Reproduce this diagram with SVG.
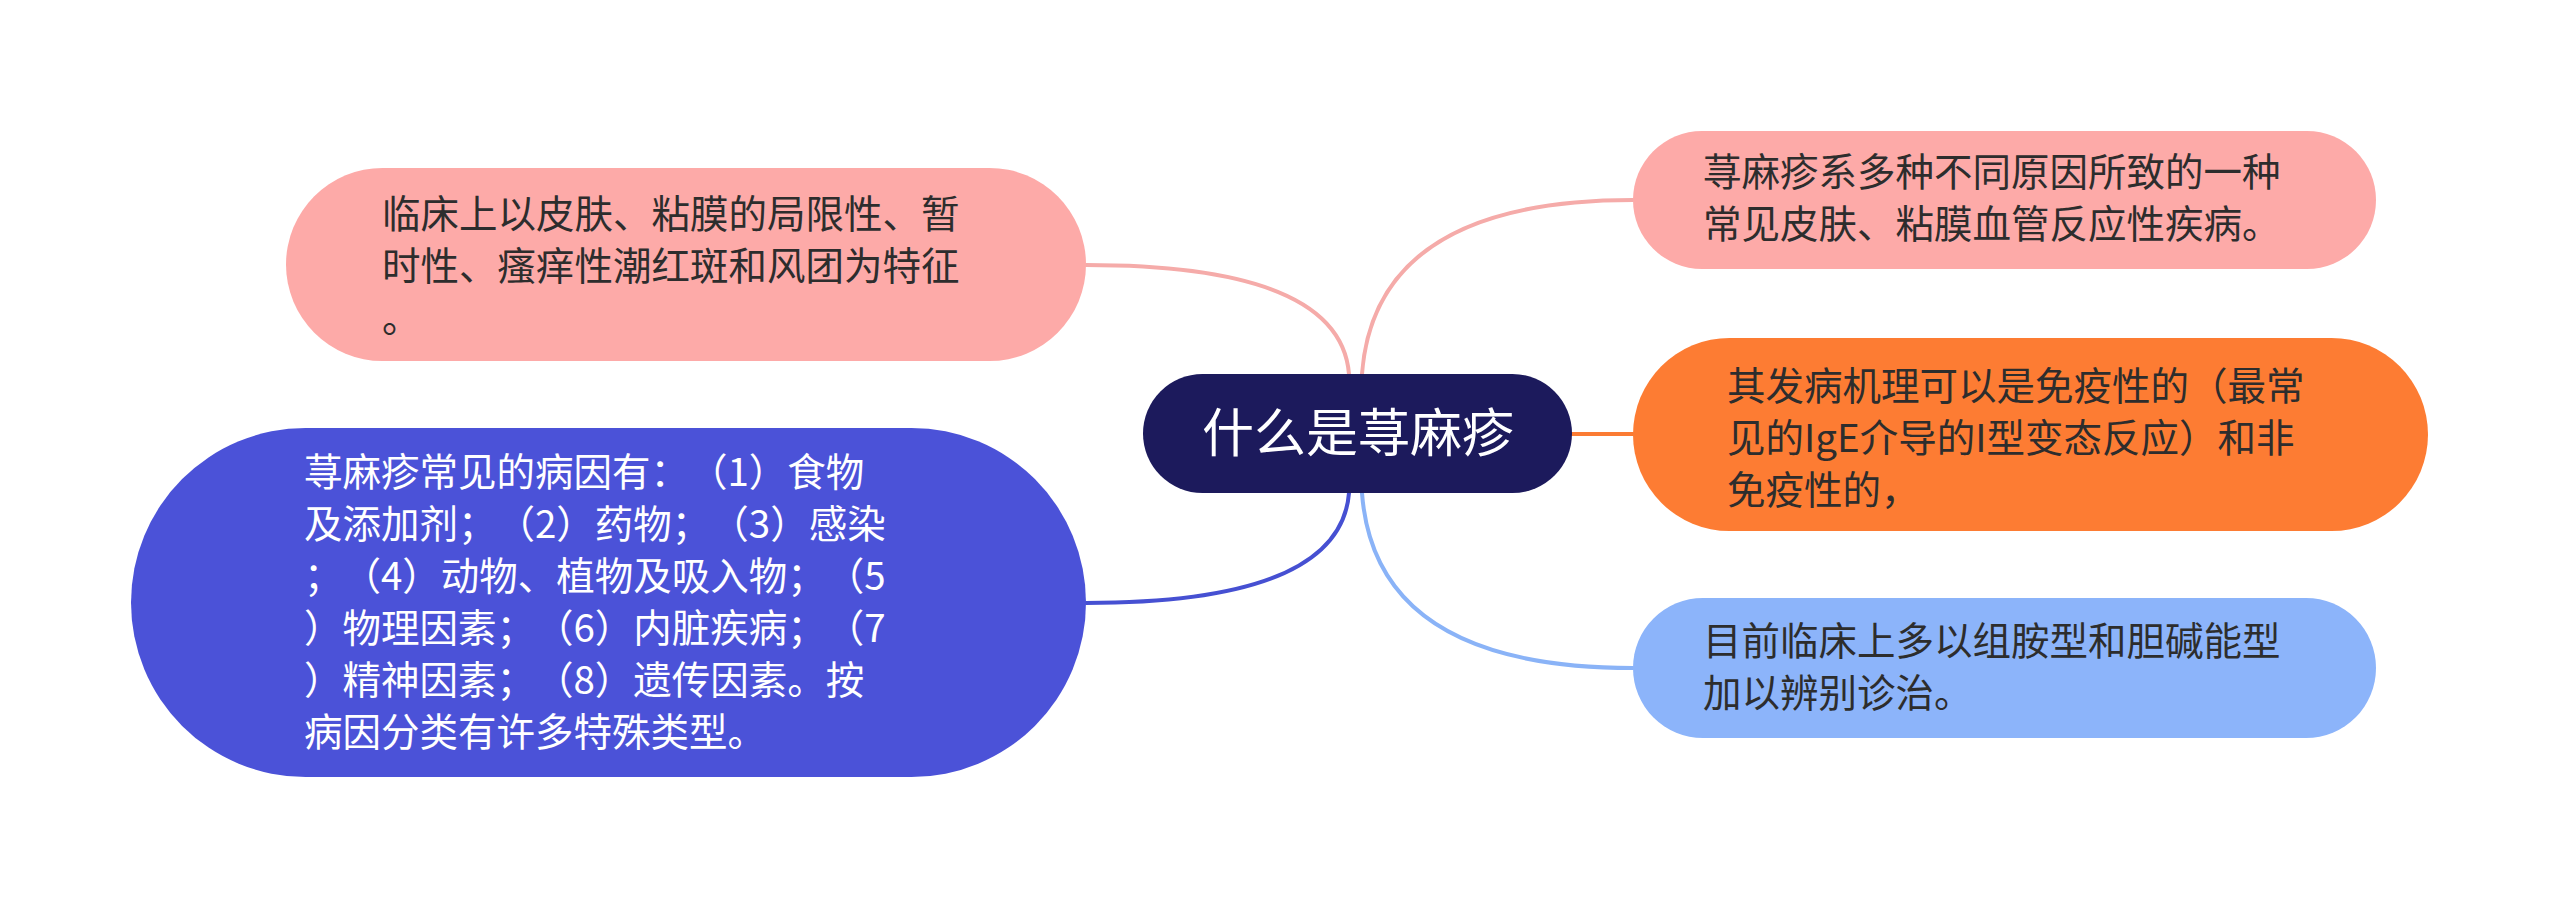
<svg xmlns="http://www.w3.org/2000/svg" width="2560" height="908" viewBox="0 0 2560 908">
<style>
text{text-spacing-trim:space-all;font-kerning:none}
.t{font-family:"Noto Sans CJK SC","Noto Sans",sans-serif;font-size:38.5px;fill:#2d2d2d}
.w{fill:#ffffff}
.c{fill:none;stroke-width:4;stroke-linecap:round}
</style>
<rect width="2560" height="908" fill="#ffffff"/>
<g id="connectors">
<path class="c" stroke="#f5aba9" d="M1086 265 Q1340 265 1349 374"/>
<path class="c" stroke="#f5aba9" d="M1362 374 Q1375 200 1633 200"/>
<path class="c" stroke="#fb7b33" d="M1572 434 L1633 434"/>
<path class="c" stroke="#4650d2" stroke-width="5" d="M1086 603 Q1340 603 1349 493"/>
<path class="c" stroke="#8ab3f7" d="M1362 493 Q1375 668 1633 668"/>
</g>
<g id="node-tl">
<rect x="286" y="168" width="800" height="193" rx="96.5" fill="#fdaaa8"/>
<text class="t" x="382" y="228">临床上以皮肤、粘膜的局限性、暂</text>
<text class="t" x="382" y="280">时性、瘙痒性潮红斑和风团为特征</text>
<text class="t" x="382" y="332">。</text>
</g>
<g id="node-bl">
<rect x="131" y="428" width="955" height="349" rx="174.5" fill="#4b52d8"/>
<text class="t w" x="304" y="486">荨麻疹常见的病因有：（1）食物</text>
<text class="t w" x="304" y="538">及添加剂；（2）药物；（3）感染</text>
<text class="t w" x="304" y="590">；（4）动物、植物及吸入物；（5</text>
<text class="t w" x="304" y="642">）物理因素；（6）内脏疾病；（7</text>
<text class="t w" x="304" y="694">）精神因素；（8）遗传因素。按</text>
<text class="t w" x="304" y="746">病因分类有许多特殊类型。</text>
</g>
<g id="node-center">
<rect x="1143" y="374" width="429" height="119" rx="59.5" fill="#1c1a5c"/>
<text x="1358" y="452" text-anchor="middle" style="font-family:'Noto Sans CJK SC','Noto Sans',sans-serif;font-size:52px;fill:#ffffff">什么是荨麻疹</text>
</g>
<g id="node-tr">
<rect x="1633" y="131" width="743" height="138" rx="69" fill="#fdaaa8"/>
<text class="t" x="1703" y="186">荨麻疹系多种不同原因所致的一种</text>
<text class="t" x="1703" y="238">常见皮肤、粘膜血管反应性疾病。</text>
</g>
<g id="node-r">
<rect x="1633" y="338" width="795" height="193" rx="96.5" fill="#fd7c33"/>
<text class="t" x="1727" y="400">其发病机理可以是免疫性的（最常</text>
<text class="t" x="1727" y="452">见的IgE介导的I型变态反应）和非</text>
<text class="t" x="1727" y="504">免疫性的，</text>
</g>
<g id="node-br">
<rect x="1633" y="598" width="743" height="140" rx="70" fill="#8cb4fa"/>
<text class="t" x="1703" y="655">目前临床上多以组胺型和胆碱能型</text>
<text class="t" x="1703" y="707">加以辨别诊治。</text>
</g>
</svg>
